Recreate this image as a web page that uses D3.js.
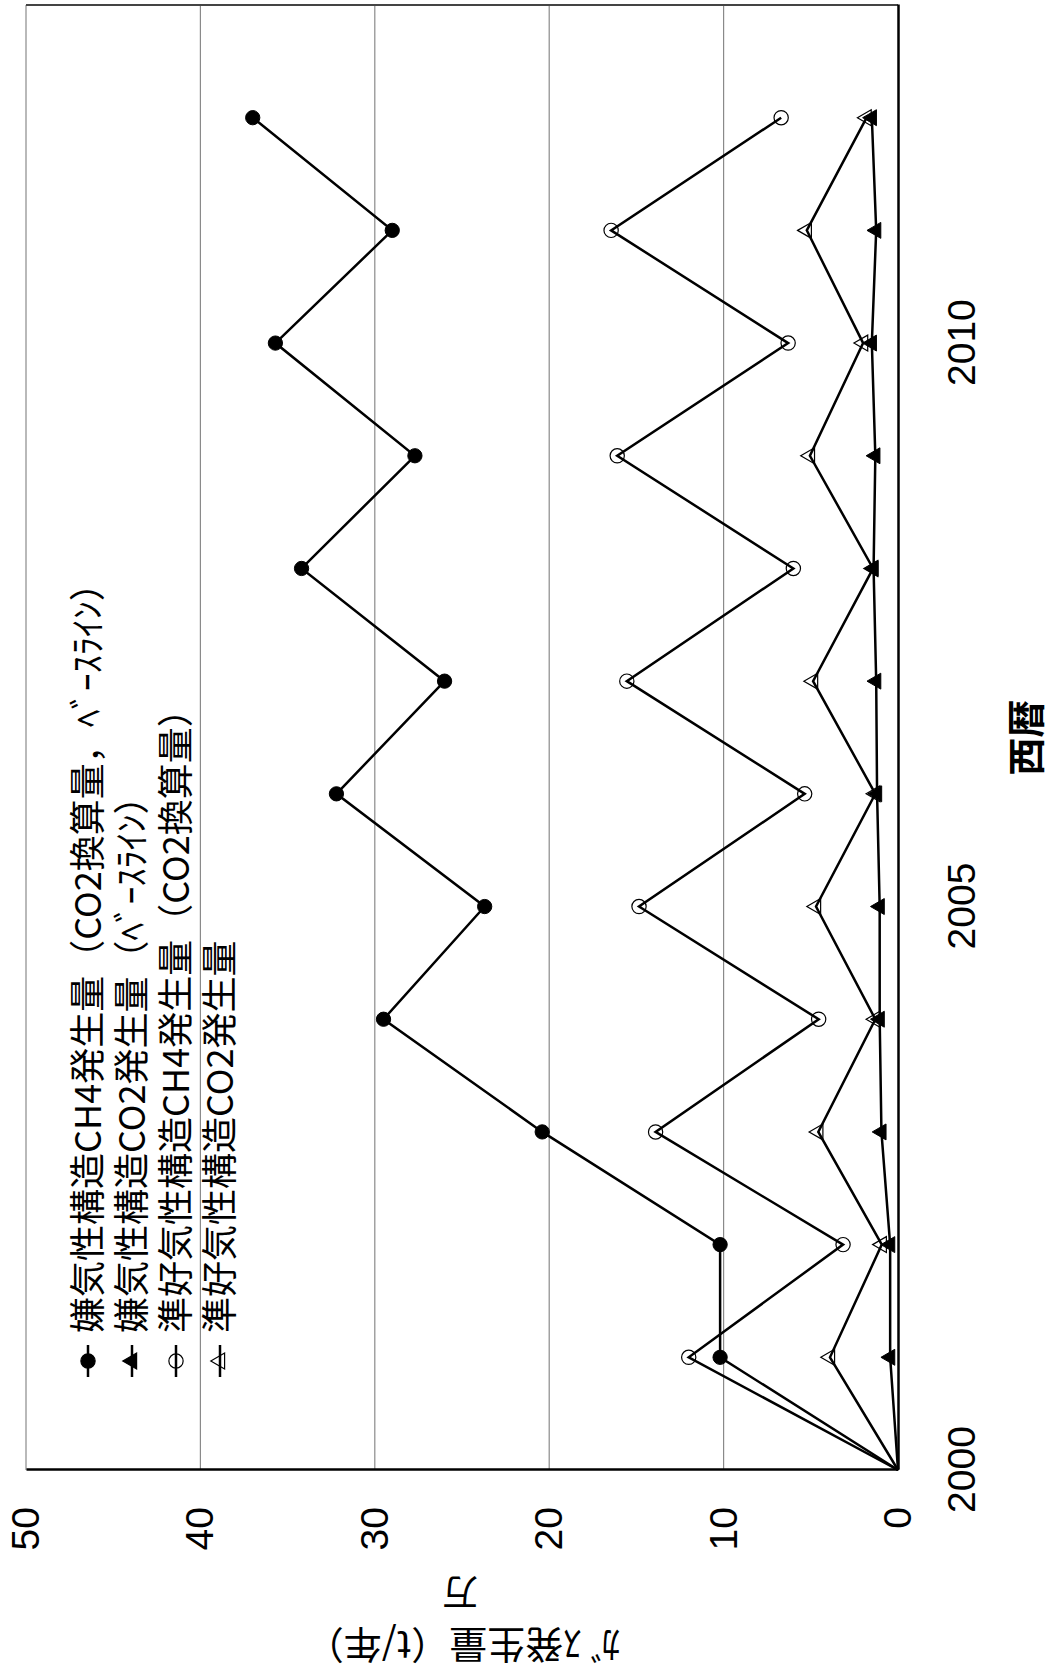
<!DOCTYPE html>
<html>
<head>
<meta charset="utf-8">
<script src="https://cdn.jsdelivr.net/npm/d3@7"></script>
<style>
  body { margin: 0; background: #fff; }
  svg { display: block; }
</style>
</head>
<body>
<svg id="chart" width="1054" height="1677"></svg>
<script>
'use strict'

// values (unit: 万 t/年)
const years = [2000, 2001, 2002, 2003, 2004, 2005, 2006, 2007, 2008, 2009, 2010, 2011, 2012]
const anaerobicCH4 = [0, 10.2, 10.2, 20.4, 29.5, 23.7, 32.2, 26.0, 34.2, 27.7, 35.7, 29.0, 37.0]
const anaerobicCO2 = [0, 0.45, 0.45, 0.95, 1.05, 1.05, 1.2, 1.25, 1.4, 1.3, 1.5, 1.25, 1.5]
const semiAerobicCH4 = [0, 12.0, 3.15, 13.9, 4.55, 14.85, 5.35, 15.55, 6.0, 16.1, 6.3, 16.45, 6.7]
const semiAerobicCO2 = [0, 3.9, 0.93, 4.57, 1.3, 4.7, 1.3, 4.87, 1.43, 5.05, 2.0, 5.23, 1.8]

const seriesNames = [
  '嫌気性構造CH4発生量（CO2換算量，ﾍﾞｰｽﾗｲﾝ）',
  '嫌気性構造CO2発生量（ﾍﾞｰｽﾗｲﾝ）',
  '準好気性構造CH4発生量（CO2換算量）',
  '準好気性構造CO2発生量'
]
const yTicks = [0, 10, 20, 30, 40, 50]
const xTicks = [2000, 2005, 2010]

const series = [
  { name: seriesNames[0], values: anaerobicCH4, symbol: d3.symbolCircle, size: 160, filled: true },
  { name: seriesNames[1], values: anaerobicCO2, symbol: d3.symbolTriangle, size: 110, filled: true },
  { name: seriesNames[2], values: semiAerobicCH4, symbol: d3.symbolCircle, size: 160, filled: false },
  { name: seriesNames[3], values: semiAerobicCO2, symbol: d3.symbolTriangle, size: 110, filled: false }
]

const svg = d3.select('#chart')

// the whole chart is drawn upright and then turned a quarter turn
const W = 1677
const H = 1054
const root = svg.append('g')
  .attr('transform', `translate(0,${W}) rotate(-90)`)

const margin = { left: 207, right: 5, top: 26, bottom: 156 }

const x = d3.scaleLinear()
  .domain([2000, 2013])
  .range([margin.left, W - margin.right])

const y = d3.scaleLinear()
  .domain([0, 50])
  .range([H - margin.bottom, margin.top])

// grid
root.append('g')
  .attr('stroke', '#8a8a8a')
  .attr('stroke-width', 1.2)
  .selectAll('line')
  .data(yTicks.filter(d => d > 0))
  .join('line')
  .attr('x1', x(2000))
  .attr('x2', x(2013))
  .attr('y1', d => y(d))
  .attr('y2', d => y(d))

// right frame edge
root.append('line')
  .attr('x1', x(2013)).attr('x2', x(2013))
  .attr('y1', y(0)).attr('y2', y(50))
  .attr('stroke', '#444')
  .attr('stroke-width', 2)

// axes
const yAxis = root.append('g')
  .attr('transform', `translate(${x(2000)},0)`)
  .call(d3.axisLeft(y).tickValues(yTicks).tickSize(0).tickPadding(37))
yAxis.select('.domain').attr('stroke', '#000').attr('stroke-width', 2.5)

const xAxis = root.append('g')
  .attr('transform', `translate(0,${y(0)})`)
  .call(d3.axisBottom(x).tickValues(xTicks).tickFormat(d3.format('d')).tickSize(0).tickPadding(49))
xAxis.select('.domain').attr('stroke', '#000').attr('stroke-width', 2.5)

root.selectAll('.tick text')
  .attr('font-family', '"Liberation Sans", Arial, sans-serif')
  .attr('font-size', 39)
  .attr('fill', '#000')

// axis titles
root.append('text')
  .attr('transform', `translate(${(x(2000) + x(2013)) / 2},1040)`)
  .attr('text-anchor', 'middle')
  .attr('font-family', '"Noto Sans CJK JP", sans-serif')
  .attr('font-size', 38)
  .attr('font-weight', 'bold')
  .text('西暦')

root.append('text')
  .attr('transform', `translate(30,463) rotate(-90)`)
  .attr('text-anchor', 'middle')
  .attr('dominant-baseline', 'central')
  .attr('font-family', '"Noto Sans CJK JP", sans-serif')
  .attr('font-size', 38)
  .text('ｶﾞｽ発生量（t/年）')

root.append('text')
  .attr('transform', `translate(82,460) rotate(-90)`)
  .attr('text-anchor', 'middle')
  .attr('dominant-baseline', 'central')
  .attr('font-family', '"Noto Sans CJK JP", sans-serif')
  .attr('font-size', 36)
  .text('万')

// lines
const line = d3.line()
  .x((d, i) => x(years[i]))
  .y(d => y(d))

root.append('g')
  .attr('fill', 'none')
  .attr('stroke', '#000')
  .attr('stroke-width', 2.5)
  .selectAll('path')
  .data(series)
  .join('path')
  .attr('d', d => line(d.values))

// markers (none at the 2000 origin)
series.forEach(s => {
  root.append('g')
    .selectAll('path')
    .data(s.values.map((v, i) => ({ year: years[i], value: v })).filter(d => d.year > 2000))
    .join('path')
    .attr('transform', d => `translate(${x(d.year)},${y(d.value)})`)
    .attr('d', d3.symbol().type(s.symbol).size(s.size))
    .attr('fill', s.filled ? '#000' : 'none')
    .attr('stroke', '#000')
    .attr('stroke-width', s.filled ? 1 : 1.2)
})

// legend
const legend = root.append('g')
  .selectAll('g')
  .data(series)
  .join('g')
  .attr('transform', (d, i) => `translate(300,${88 + i * 44})`)

legend.append('line')
  .attr('x1', 0).attr('x2', 32)
  .attr('stroke', '#000')
  .attr('stroke-width', 2.5)

legend.append('path')
  .attr('transform', 'translate(16,0)')
  .attr('d', d => d3.symbol().type(d.symbol).size(d.size)())
  .attr('fill', d => d.filled ? '#000' : 'none')
  .attr('stroke', '#000')
  .attr('stroke-width', 1.2)

legend.append('text')
  .attr('x', 44)
  .attr('dy', '0.36em')
  .attr('font-family', '"Noto Sans CJK JP", sans-serif')
  .attr('font-size', 36)
  .text(d => d.name)
</script>
</body>
</html>
